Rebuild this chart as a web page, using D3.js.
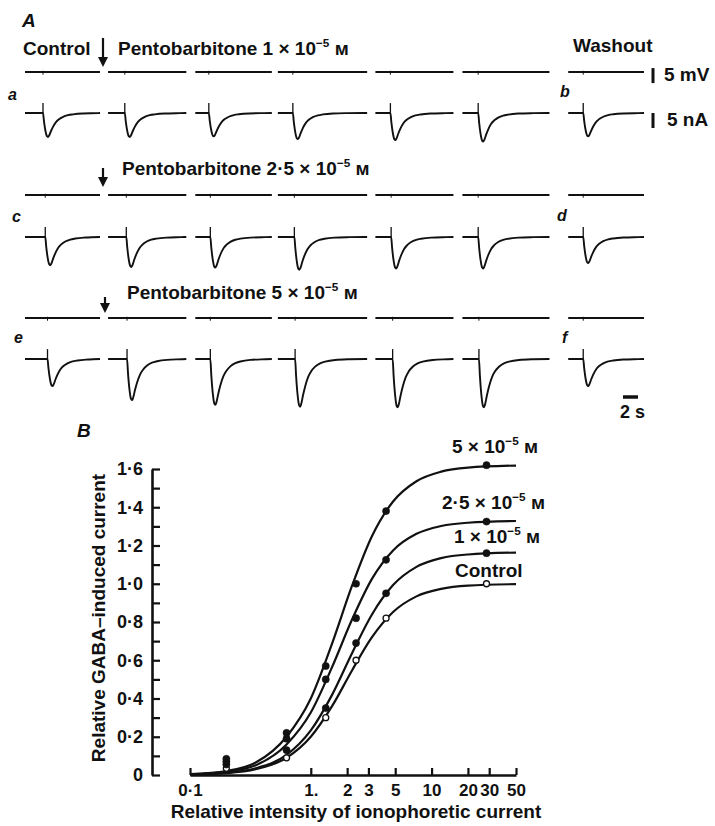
<!DOCTYPE html>
<html><head><meta charset="utf-8">
<script src="https://cdn.jsdelivr.net/npm/d3@7"></script>
<style>
body{margin:0;background:#fff}
svg{display:block}
text{font-family:"Liberation Sans",Arial,sans-serif;font-weight:bold;fill:#111}
</style>
</head><body>
<svg id="c" width="715" height="826"></svg>
<script>
// ================= DATA =================
// ---- Panel A: current traces (time in s, current in nA) ----
const rowLetters = ["a", "c", "e"];
const washLetters = ["b", "d", "f"];
const concPrefix = ["1", "2·5", "5"];
const segStart = [0, 11.07, 22.7, 33.7, 46.7, 58.3, 72.4];
const segEnd   = [10, 21.5, 32.9, 45.6, 57.1, 69.9, 82.5];
const onsetA = [2.4, 13.3, 24.5, 35.7, 48.7, 60.4, 74.4];
const onsetC = [2.7, 13.5, 24.7, 35.9, 48.8, 60.4, 74.4];
const onsetE = [3.0, 13.6, 24.7, 36.0, 49.0, 60.5, 74.4];
const ampA = [8.0, 8.0, 7.8, 8.7, 9.0, 9.5, 7.8];
const ampC = [9.4, 10.0, 10.2, 10.9, 10.5, 10.5, 8.7];
const ampE = [9.0, 13.7, 15.3, 15.9, 16.1, 16.1, 9.0];
const artifactNA = 3.3;
// response shape (s after onset, fraction of peak)
const shapeT = [0, 0.13, 0.33, 0.53, 0.67, 0.8, 1.07, 1.33, 1.73, 2.13, 2.67, 3.33, 4.0, 5.33, 7.33, 9.33];
const shapeV = [0, 0.35, 0.75, 0.97, 1.0, 0.95, 0.75, 0.58, 0.38, 0.26, 0.16, 0.09, 0.055, 0.02, 0.005, 0];

// ---- Panel B: dose-response ----
const xTicks = [0.1, 1, 2, 3, 5, 10, 20, 30, 50];
const xTickLabels = ["0·1", "1.", "2", "3", "5", "10", "20", "30", "50"];
const yTicks = [0, 0.1, 0.2, 0.3, 0.4, 0.5, 0.6, 0.7, 0.8, 0.9, 1.0, 1.1, 1.2, 1.3, 1.4, 1.5, 1.6];
const yTickLabels = ["0", "", "0·2", "", "0·4", "", "0·6", "", "0·8", "", "1·0", "", "1·2", "", "1·4", "", "1·6"];
const doseX = [0.2, 0.63, 1.33, 2.37, 4.2, 28.5];
const ctrlPts = [0.035, 0.09, 0.30, 0.60, 0.82, 1.0];
const p1Pts   = [0.055, 0.13, 0.35, 0.69, 0.95, 1.16];
const p25Pts  = [0.07, 0.19, 0.50, 0.82, 1.125, 1.325];
const p5Pts   = [0.085, 0.22, 0.57, 1.0, 1.38, 1.62];
const fitX    = [0.1, 0.2, 0.35, 0.63, 1, 1.5, 2.2, 3.2, 4.8, 7.5, 12, 20, 50];
const ctrlFit = [0.003, 0.01, 0.03, 0.09, 0.2, 0.36, 0.548, 0.719, 0.852, 0.934, 0.973, 0.99, 0.998];
const p1Fit   = [0.003, 0.012, 0.035, 0.105, 0.233, 0.419, 0.638, 0.838, 0.993, 1.088, 1.134, 1.153, 1.163];
const p25Fit  = [0.004, 0.017, 0.051, 0.16, 0.327, 0.564, 0.814, 1.024, 1.174, 1.261, 1.302, 1.319, 1.328];
const p5Fit   = [0.005, 0.021, 0.065, 0.2, 0.4, 0.687, 0.991, 1.247, 1.43, 1.536, 1.586, 1.607, 1.618];

// ================= DRAW =================
const svg = d3.select("#c");
const ink = "#111";

function concText(g, x, y, prefix, size) {
  const t = g.append("text").attr("x", x).attr("y", y).attr("font-size", size);
  t.append("tspan").text(prefix + " × 10");
  t.append("tspan").attr("dy", -8).attr("font-size", size * 0.62).text("−5");
  t.append("tspan").attr("dy", 8).text(" м");
  return t;
}

// ---------- Panel A ----------
const tx = d3.scaleLinear().domain([0, 82.5]).range([25, 644]);
const rows = [
  {v: 72, i: 113, on: onsetA, amp: ampA, lx: 8, ly: 100, wx: 560, wy: 97, ax: 103, a0: 38, a1: 67, tx: 118, ty: 55},
  {v: 195, i: 237, on: onsetC, amp: ampC, lx: 12, ly: 222, wx: 557, wy: 221, ax: 103, a0: 168, a1: 187, tx: 122, ty: 175},
  {v: 318, i: 359, on: onsetE, amp: ampE, lx: 14, ly: 343, wx: 562, wy: 343, ax: 105, a0: 297, a1: 313, tx: 127, ty: 299}
];

svg.append("text").attr("x", 22).attr("y", 27).attr("font-size", 19).attr("font-style", "italic").text("A");
svg.append("text").attr("x", 23).attr("y", 55).attr("font-size", 19).text("Control");
svg.append("text").attr("x", 573).attr("y", 52).attr("font-size", 19).text("Washout");

const traceLine = d3.line().x(d => tx(d[0])).curve(d3.curveMonotoneX);

rows.forEach((r, ri) => {
  const yI = d3.scaleLinear().domain([0, -20]).range([r.i, r.i + 60]);
  const yV = d3.scaleLinear().domain([0, 5]).range([r.v, r.v - 15]);
  const g = svg.append("g");
  segStart.forEach((s, k) => {
    const e = segEnd[k], on = r.on[k], amp = r.amp[k];
    // voltage trace
    g.append("line").attr("x1", tx(s)).attr("x2", tx(e)).attr("y1", yV(0)).attr("y2", yV(0))
      .attr("stroke", ink).attr("stroke-width", 1.8);
    g.append("line").attr("x1", tx(on)).attr("x2", tx(on)).attr("y1", yV(0.4)).attr("y2", yV(-0.9))
      .attr("stroke", ink).attr("stroke-width", 1);
    // current trace
    const pts = [[s, 0], [on, 0]];
    shapeT.forEach((t, j) => { if (on + t < e) pts.push([on + t, -amp * shapeV[j]]); });
    pts.push([e, 0]);
    g.append("path").attr("d", traceLine.y(d => yI(d[1]))(pts))
      .attr("fill", "none").attr("stroke", ink).attr("stroke-width", 1.9);
    g.append("line").attr("x1", tx(on)).attr("x2", tx(on)).attr("y1", yI(0)).attr("y2", yI(artifactNA))
      .attr("stroke", ink).attr("stroke-width", 1.3);
  });
  svg.append("text").attr("x", r.lx).attr("y", r.ly).attr("font-size", 16).attr("font-style", "italic").text(rowLetters[ri]);
  svg.append("text").attr("x", r.wx).attr("y", r.wy).attr("font-size", 16).attr("font-style", "italic").text(washLetters[ri]);
  // arrow
  svg.append("line").attr("x1", r.ax).attr("x2", r.ax).attr("y1", r.a0).attr("y2", r.a1 - 8)
    .attr("stroke", ink).attr("stroke-width", 2.2);
  svg.append("path").attr("d", `M${r.ax - 5},${r.a1 - 10}L${r.ax + 5},${r.a1 - 10}L${r.ax},${r.a1}Z`).attr("fill", ink);
  concText(svg, r.tx, r.ty, "Pentobarbitone " + concPrefix[ri], 19);
  if (ri === 0) {
    // scale bars
    svg.append("line").attr("x1", 653).attr("x2", 653).attr("y1", yV(1.3)).attr("y2", yV(1.3 - 5))
      .attr("stroke", ink).attr("stroke-width", 3);
    svg.append("text").attr("x", 664).attr("y", 81).attr("font-size", 19).text("5 mV");
    svg.append("line").attr("x1", 653).attr("x2", 653).attr("y1", yI(0)).attr("y2", yI(-5))
      .attr("stroke", ink).attr("stroke-width", 3);
    svg.append("text").attr("x", 667).attr("y", 126).attr("font-size", 19).text("5 nA");
  }
});
// time bar
svg.append("line").attr("x1", 623).attr("x2", 623 + tx(2) - tx(0)).attr("y1", 397).attr("y2", 397)
  .attr("stroke", ink).attr("stroke-width", 3.5);
svg.append("text").attr("x", 620).attr("y", 418).attr("font-size", 18).text("2 s");

// ---------- Panel B ----------
svg.append("text").attr("x", 77).attr("y", 437).attr("font-size", 19).attr("font-style", "italic").text("B");
const x = d3.scaleLog().domain([0.1, 50]).range([190, 516]);
const y = d3.scaleLinear().domain([0, 1.6]).range([775, 469]);

const yAxis = svg.append("g").attr("transform", "translate(152,0)")
  .call(d3.axisLeft(y).tickValues(yTicks).tickSizeInner(-8).tickSizeOuter(0).tickPadding(9)
    .tickFormat((d, i) => yTickLabels[i]));
yAxis.select(".domain").attr("stroke", ink).attr("stroke-width", 2.6);
yAxis.selectAll(".tick line").attr("stroke", ink).attr("stroke-width", 2.2);
yAxis.selectAll(".tick text").attr("font-size", 18).attr("font-family", "Liberation Sans, Arial, sans-serif")
  .attr("font-weight", "bold").attr("fill", ink);

const xAxis = svg.append("g").attr("transform", "translate(0,775)")
  .call(d3.axisBottom(x).tickValues(xTicks).tickSizeInner(-7).tickSizeOuter(0).tickPadding(9)
    .tickFormat((d, i) => xTickLabels[i]));
xAxis.select(".domain").attr("stroke", ink).attr("stroke-width", 2.6);
xAxis.selectAll(".tick line").attr("stroke", ink).attr("stroke-width", 2.2);
xAxis.selectAll(".tick text").attr("font-size", 17).attr("font-family", "Liberation Sans, Arial, sans-serif")
  .attr("font-weight", "bold").attr("fill", ink);

svg.append("text").attr("transform", "translate(105,618) rotate(-90)").attr("text-anchor", "middle")
  .attr("font-size", 19).text("Relative GABA–induced current");
svg.append("text").attr("x", 356).attr("y", 818).attr("text-anchor", "middle")
  .attr("font-size", 19).text("Relative intensity of ionophoretic current");

const fitLine = d3.line().x((d, i) => x(fitX[i])).y(d => y(d)).curve(d3.curveMonotoneX);
const series = [
  {fit: ctrlFit, pts: ctrlPts, open: true},
  {fit: p1Fit, pts: p1Pts, open: false},
  {fit: p25Fit, pts: p25Pts, open: false},
  {fit: p5Fit, pts: p5Pts, open: false}
];
series.forEach(s => {
  svg.append("path").attr("d", fitLine(s.fit)).attr("fill", "none").attr("stroke", ink).attr("stroke-width", 2.2);
});
series.forEach(s => {
  svg.append("g").selectAll("circle").data(s.pts).join("circle")
    .attr("cx", (d, i) => x(doseX[i])).attr("cy", d => y(d))
    .attr("r", s.open ? 3 : 3.6)
    .attr("fill", s.open ? "#fff" : ink).attr("stroke", ink).attr("stroke-width", s.open ? 1.3 : 0.5);
});

concText(svg, 452, 453, "5", 19);
concText(svg, 442, 509, "2·5", 19);
concText(svg, 454, 543, "1", 19);
svg.append("text").attr("x", 455).attr("y", 577).attr("font-size", 19).text("Control");
</script>
</body></html>
